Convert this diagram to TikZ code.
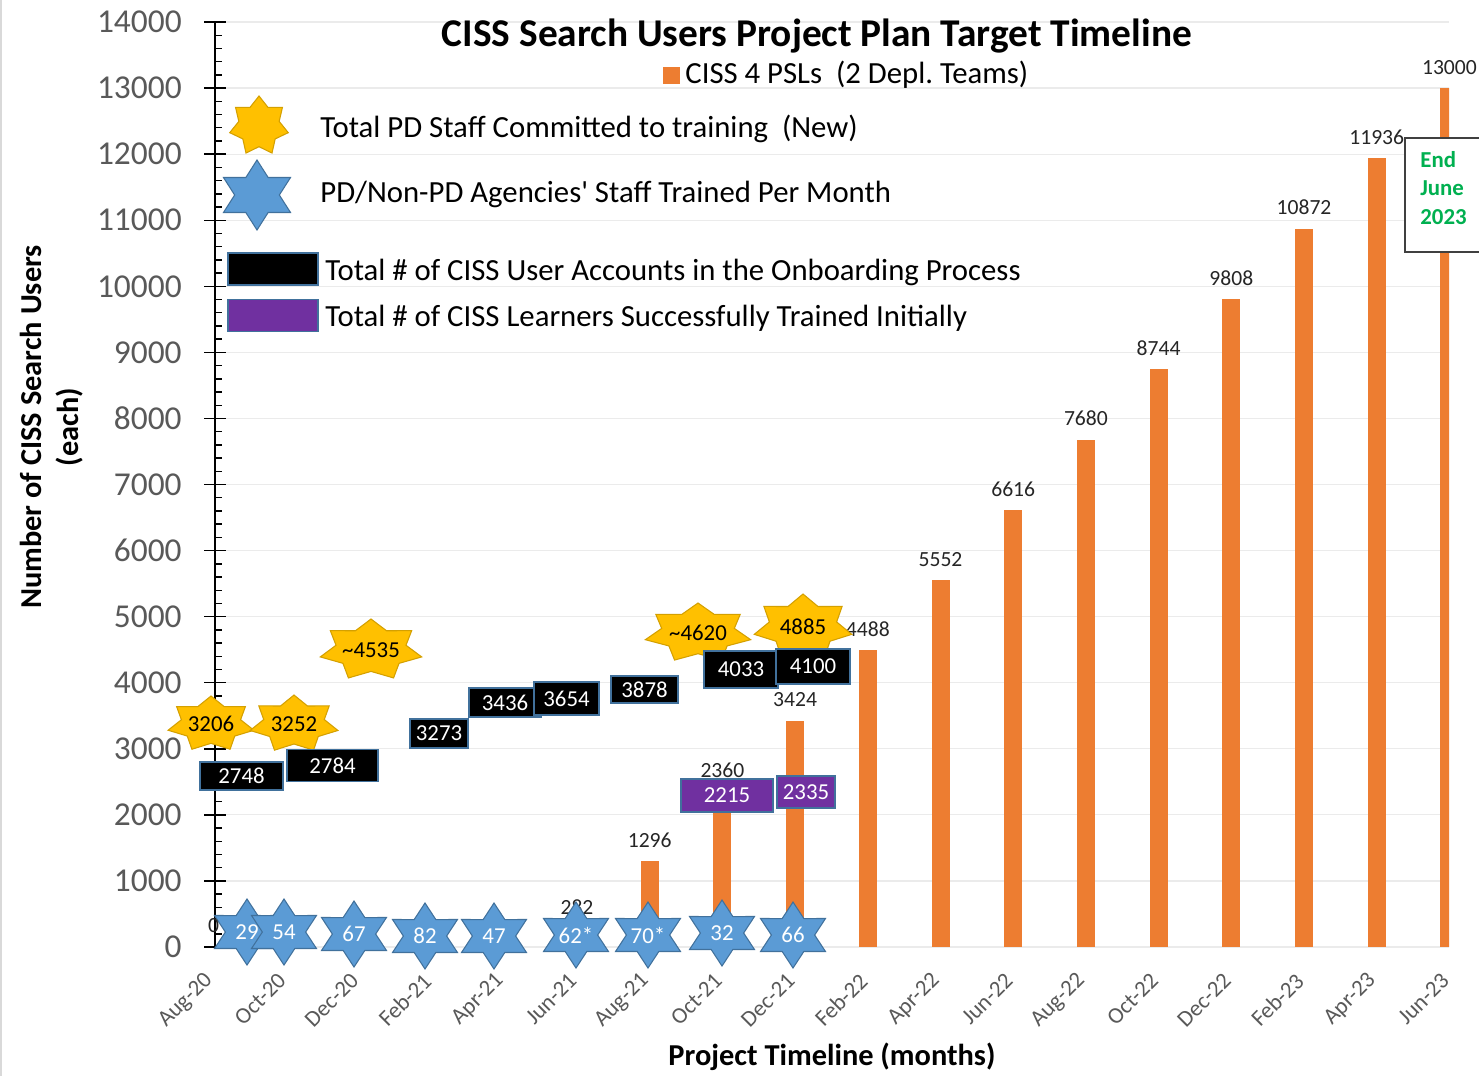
\documentclass[tikz,border=0pt]{standalone}
\usepackage{fontspec}
\setmainfont{Carlito}

\definecolor{barOrange}{HTML}{ED7D31}
\definecolor{starGold}{HTML}{FFC000}
\definecolor{starGoldEdge}{HTML}{D4A000}
\definecolor{starBlue}{HTML}{5B9BD5}
\definecolor{starBlueEdge}{HTML}{41719C}
\definecolor{learnPurple}{HTML}{7030A0}
\definecolor{endGreen}{HTML}{00B050}
\definecolor{tickGray}{HTML}{595959}
\definecolor{gridGray}{HTML}{EBEBEB}

\def\px{0.02cm}
\def\catZero{213.5}
\def\catSep{72.7}
\def\valScale{0.066071}

\tikzset{
  gridLine/.style={draw=gridGray, line width=0.7pt},
  axisLine/.style={draw=black, line width=0.8pt},
  barFill/.style={fill=barOrange},
  barLabel/.style={inner sep=0, text=black!85, font=\fontsize{12.3}{14}\selectfont},
  yTick/.style={anchor=east, inner sep=0, text=tickGray, font=\fontsize{19}{22}\selectfont},
  xTick/.style={rotate=45, anchor=east, inner sep=0, text=tickGray, font=\fontsize{13}{15}\selectfont},
  goldStar/.style={fill=starGold, draw=starGoldEdge, line width=0.6pt},
  blueStar/.style={fill=starBlue, draw=starBlueEdge, line width=0.6pt},
  starText/.style={inner sep=0, font=\fontsize{13}{15}\selectfont},
  onboardBox/.style={draw=starBlueEdge, fill=black, text=white, inner sep=0, line width=0.7pt, font=\fontsize{13}{15}\selectfont},
  learnerBox/.style={onboardBox, fill=learnPurple},
  legendText/.style={anchor=west, inner sep=0, font=\fontsize{17.5}{20}\selectfont},
  axisTitle/.style={inner sep=0, font=\bfseries\fontsize{17.3}{21}\selectfont},
  endText/.style={anchor=west, inner sep=0, align=left, text=endGreen, font=\bfseries\fontsize{13}{16}\selectfont}
}

% star drawn as a polygon (rx, ry in px), text node on top
\newcommand{\drawStar}[8]{%
  \begin{scope}[shift={(#2)}, xscale=#4, yscale=#5]
    \filldraw[#7] (-90:1)
      \foreach \k in {1,...,#3} {
        -- ({-90+(\k-0.5)*360/#3}:#6) -- ({-90+\k*360/#3}:1)
      } -- cycle;
  \end{scope}
  \node[starText] (#1) at (#2) {#8};
}

\begin{document}
\begin{tikzpicture}[x=0.02cm, y=-0.02cm]
  \useasboundingbox (0,0) rectangle (1479,1076);
  \fill[white] (0,0) rectangle (1479,1076);
  \draw[gray!30, line width=1.2pt] (1,0) -- (1,1076);

  % grid
  \foreach \k in {0,...,14}
    \draw[gridLine] (215,{947-\k*1000*\valScale}) -- (1449,{947-\k*1000*\valScale});

  % bars
  \begin{scope}
    \clip (215,0) rectangle (1449,947);
    \foreach \i/\v in {5/282,6/1296,7/2360,8/3424,9/4488,10/5552,11/6616,12/7680,
                       13/8744,14/9808,15/10872,16/11936,17/13000}
      \fill[barFill] ({\catZero+\i*\catSep-9},947) rectangle ({\catZero+\i*\catSep+9},{947-\v*\valScale});
  \end{scope}
  \foreach \i/\v in {5/282,6/1296,7/2360,8/3424,9/4488,10/5552,11/6616,12/7680,
                     13/8744,14/9808,15/10872,16/11936,17/13000}
    \node[barLabel] (val\i) at ({\catZero+\i*\catSep},{947-\v*\valScale-21}) {\v};

  % y axis
  \draw[axisLine] (215,22) -- (215,947);
  \foreach \m in {0,...,70}
    \draw[axisLine] (215,{947-\m*200*\valScale}) -- (222,{947-\m*200*\valScale});
  \foreach \k [evaluate=\k as \lab using int(\k*1000)] in {0,...,14} {
    \draw[axisLine] (204,{947-\k*1000*\valScale}) -- (226,{947-\k*1000*\valScale});
    \node[yTick] (ytick\k) at (182,{947-\k*1000*\valScale}) {\lab};
  }

  % x axis labels
  \foreach \m [count=\i from 0] in {Aug-20,Oct-20,Dec-20,Feb-21,Apr-21,Jun-21,Aug-21,Oct-21,Dec-21,
                                    Feb-22,Apr-22,Jun-22,Aug-22,Oct-22,Dec-22,Feb-23,Apr-23,Jun-23}
    \node[xTick] (month\i) at ({\catZero+\i*\catSep-4},977) {\m};

  % committed staff
  \drawStar{gold1}{211,724}{7}{44}{28}{0.69}{goldStar}{3206}
  \drawStar{gold2}{294,724}{7}{45}{29}{0.69}{goldStar}{3252}
  \drawStar{gold3}{371,650}{7}{52}{31}{0.69}{goldStar}{\textasciitilde 4535}
  \drawStar{gold4}{698,633}{7}{54}{30}{0.69}{goldStar}{\textasciitilde 4620}
  \drawStar{gold5}{803,627}{7}{50}{33}{0.69}{goldStar}{4885}

  % onboarding accounts
  \node[onboardBox, minimum width=83*\px, minimum height=28*\px] (onb1) at (241.5,776) {2748};
  \node[onboardBox, minimum width=91*\px, minimum height=32*\px] (onb2) at (332.5,765.5) {2784};
  \node[onboardBox, minimum width=58*\px, minimum height=29*\px] (onb3) at (439,733.5) {3273};
  \node[onboardBox, minimum width=72*\px, minimum height=29*\px] (onb4) at (505,702.5) {3436};
  \node[onboardBox, minimum width=65*\px, minimum height=33*\px] (onb5) at (566.5,698.5) {3654};
  \node[onboardBox, minimum width=67*\px, minimum height=27*\px] (onb6) at (644.5,689.5) {3878};
  \node[onboardBox, minimum width=74*\px, minimum height=37*\px] (onb7) at (741,669.5) {4033};
  \node[onboardBox, minimum width=74*\px, minimum height=35*\px] (onb8) at (813,666.5) {4100};

  % trained learners
  \node[learnerBox, minimum width=92*\px, minimum height=33*\px] (lrn1) at (727,795.5) {2215};
  \node[learnerBox, minimum width=58*\px, minimum height=32*\px] (lrn2) at (806,792) {2335};

  % staff trained per month
  \foreach \n/\cx/\cy/\t in {1/247/932/29, 2/284/932/54, 3/354/934/67, 4/425/936/82, 5/494/936/47,
                             6/576/935/62*, 7/648/935/70*, 8/722/933/32, 9/793/935/66}
    \drawStar{blue\n}{\cx,\cy}{6}{37.5}{33}{0.577}{blueStar}{\textcolor{white}{\t}};
  \node[barLabel] (val0) at (\catZero,926) {0};

  % end note
  \draw[fill=white, draw=black!75, line width=0.8pt] (1405,138) rectangle (1500,252);
  \node[endText] (endNote) at (1420,188) {End\\June\\2023};

  % titles
  \node[inner sep=0, font=\bfseries\fontsize{22.4}{26}\selectfont] (title) at (817,36)
    {CISS Search Users Project Plan Target Timeline};
  \node[axisTitle] (xTitle) at (832,1057) {Project Timeline (months)};
  \node[axisTitle, rotate=90, align=center] (yTitle) at (52,427) {Number of CISS Search Users\\(each)};

  % legend
  \node[fill=barOrange, minimum size=17*\px, inner sep=0] (legBar) at (671,75) {};
  \node[legendText] (legBarText) at (685,75) {CISS 4 PSLs~~(2 Depl.\ Teams)};
  \drawStar{legGold}{259,126}{7}{30}{30}{0.69}{goldStar}{}
  \node[legendText] (legGoldText) at (320,129) {Total PD Staff Committed to training~~(New)};
  \drawStar{legBlue}{257,195}{6}{38.7}{35}{0.577}{blueStar}{}
  \node[legendText] (legBlueText) at (320,194) {PD/Non-PD Agencies\textquotesingle\ Staff Trained Per Month};
  \node[onboardBox, minimum width=90*\px, minimum height=32*\px] (legOnb) at (273,269) {};
  \node[legendText] (legOnbText) at (325,272) {Total \# of CISS User Accounts in the Onboarding Process};
  \node[learnerBox, minimum width=90*\px, minimum height=32*\px] (legLrn) at (273,315.5) {};
  \node[legendText] (legLrnText) at (325,318) {Total \# of CISS Learners Successfully Trained Initially};
\end{tikzpicture}
\end{document}
